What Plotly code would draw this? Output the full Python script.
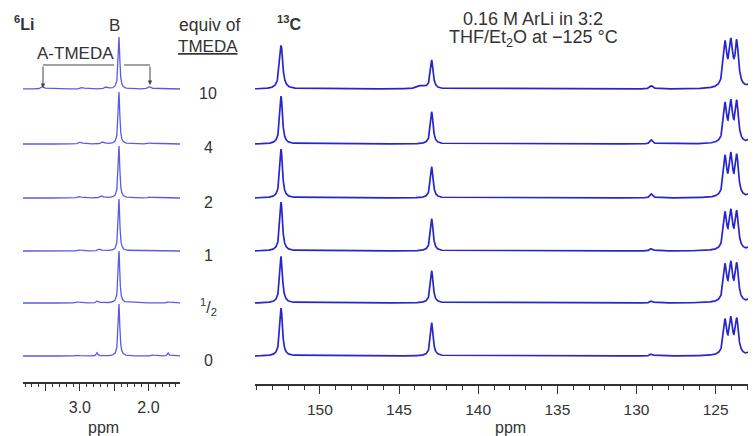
import numpy as np
import plotly.graph_objects as go

# ---------------- data ----------------
equiv_labels = ["10", "4", "2", "1", "<sup>1</sup>/<sub>2</sub>", "0"]

# 6Li spectra: peaks (ppm, intensity 0-100, FWHM ppm) per spectrum, top to bottom
li_peaks = [
    [(2.43, 100, 0.028), (3.54, 5, 0.05), (2.96, 3, 0.05), (2.61, 4, 0.05), (1.98, 5, 0.05)],
    [(2.43, 100, 0.028), (2.99, 4, 0.05), (2.66, 4, 0.05), (1.98, 2, 0.06)],
    [(2.43, 100, 0.028), (3.00, 3, 0.05), (2.68, 4, 0.05), (1.98, 1.5, 0.06)],
    [(2.43, 100, 0.028), (3.00, 2, 0.05), (2.71, 4, 0.05)],
    [(2.43, 100, 0.028), (3.03, 2, 0.05), (2.74, 4, 0.04), (1.71, 2, 0.04)],
    [(2.43, 100, 0.028), (3.03, 2, 0.04), (2.75, 6, 0.025), (1.93, 2, 0.04), (1.71, 6, 0.025)],
]

# 13C spectra: peaks (ppm, intensity 0-100, FWHM ppm) per spectrum, top to bottom
c_peaks = [
    [(152.45, 84, 0.24), (142.93, 55, 0.2), (143.6, 6, 0.6), (129.05, 6, 0.25),
     (124.40, 82, 0.26), (124.03, 80, 0.26), (123.66, 84, 0.26), (122.9, 5, 0.3)],
    [(152.45, 92, 0.2), (142.93, 62, 0.2), (129.05, 8, 0.2),
     (124.40, 72, 0.24), (124.03, 72, 0.24), (123.66, 76, 0.24), (122.9, 6, 0.25)],
    [(152.45, 94, 0.2), (142.93, 60, 0.2), (129.05, 8, 0.2),
     (124.40, 74, 0.24), (124.03, 74, 0.24), (123.66, 76, 0.24), (122.9, 5, 0.25)],
    [(152.45, 94, 0.2), (142.93, 62, 0.2), (129.05, 5, 0.2),
     (124.40, 68, 0.24), (124.03, 68, 0.24), (123.66, 70, 0.24), (122.9, 5, 0.25)],
    [(152.45, 90, 0.2), (142.93, 62, 0.2), (129.05, 4, 0.2),
     (124.40, 68, 0.24), (124.03, 68, 0.24), (123.66, 70, 0.24), (122.9, 5, 0.25)],
    [(152.45, 92, 0.2), (142.93, 64, 0.2), (129.05, 4, 0.2),
     (124.40, 64, 0.24), (124.03, 64, 0.24), (123.66, 66, 0.24), (122.9, 5, 0.25)],
]

li_ticks = [3.5, 3.0, 2.5, 2.0]
li_ticktext = ["", "3.0", "", "2.0"]
c_ticks = [150, 145, 140, 135, 130, 125]
c_ticktext = ["150", "145", "140", "135", "130", "125"]

# ---------------- layout helpers ----------------
WIN_W, WIN_H = 756, 436
OFF = 8                                  # browser body margin
W, H = WIN_W - OFF, WIN_H - OFF
baselines_px = [89, 144, 198, 251, 303, 356]   # window pixel rows of spectrum baselines
SCALE = 0.52                                    # px per intensity unit


def px(x):
    return (x - OFF) / W


def py(y):
    return 1 - (y - OFF) / H


def lorentz_sum(x, peaks):
    y = np.zeros_like(x)
    for c, h, w in peaks:
        g = w / 2
        y += h / (1 + ((x - c) / g) ** 2)
    return y


LI_RANGE = [3.83, 1.54]
C_RANGE = [154.1, 122.45]
li_x = np.linspace(LI_RANGE[1], LI_RANGE[0], 1600)
c_x = np.linspace(C_RANGE[1], C_RANGE[0], 4000)

LI_COLOR = "#5a5ae8"
C_COLOR = "#2626cc"

fig = go.Figure()
for i, pk in enumerate(li_peaks):
    yv = (WIN_H - baselines_px[i]) + SCALE * lorentz_sum(li_x, pk)
    fig.add_trace(go.Scatter(x=li_x, y=yv, mode="lines", xaxis="x", yaxis="y",
                             line=dict(color=LI_COLOR, width=1.3), hoverinfo="skip",
                             showlegend=False))
for i, pk in enumerate(c_peaks):
    yv = (WIN_H - baselines_px[i]) + SCALE * lorentz_sum(c_x, pk)
    fig.add_trace(go.Scatter(x=c_x, y=yv, mode="lines", xaxis="x2", yaxis="y",
                             line=dict(color=C_COLOR, width=1.7), hoverinfo="skip",
                             showlegend=False))

FONT = "Arial, Liberation Sans, sans-serif"
TXT = "#333333"

axis_common = dict(showgrid=False, zeroline=False, showline=True, linecolor=TXT,
                   linewidth=1.5, ticks="outside", tickcolor=TXT, tickwidth=1,
                   anchor="free", fixedrange=True)

fig.update_layout(
    width=W, height=H, margin=dict(l=0, r=0, t=0, b=0),
    paper_bgcolor="white", plot_bgcolor="white",
    xaxis=dict(domain=[px(23), px(180)], range=LI_RANGE, position=py(383),
               tickmode="array", tickvals=li_ticks, ticktext=li_ticktext, ticklen=7,
               ticklabelstandoff=3, tickfont=dict(family=FONT, size=16, color=TXT),
               minor=dict(dtick=0.1, tick0=0, ticklen=3, ticks="outside",
                          tickcolor=TXT, showgrid=False),
               **axis_common),
    xaxis2=dict(domain=[px(255), 1.0], range=C_RANGE, position=py(385),
                tickmode="array", tickvals=c_ticks, ticktext=c_ticktext, ticklen=8,
                ticklabelstandoff=3, tickfont=dict(family=FONT, size=15.5, color=TXT),
                minor=dict(dtick=1, tick0=0, ticklen=4, ticks="outside",
                           tickcolor=TXT, showgrid=False),
                **axis_common),
    yaxis=dict(domain=[0, 1], range=[0, H], visible=False, fixedrange=True),
)

ann = []


def text(x, y, s, size=14, anchor="center"):
    ann.append(dict(x=px(x), y=py(y), xref="paper", yref="paper", text=s,
                    showarrow=False, xanchor=anchor, yanchor="middle",
                    font=dict(family=FONT, size=size, color=TXT)))


text(12, 23, "<b><sup>6</sup>Li</b>", size=16, anchor="left")
text(114, 26, "B", size=17)
text(209, 25, "equiv of", size=17.5)
text(208, 47, "<u>TMEDA</u>", size=17)
text(75, 54, "A-TMEDA", size=17)
text(275, 23, "<b><sup>13</sup>C</b>", size=16, anchor="left")
text(533, 19, "0.16 M ArLi in 3:2", size=18)
text(533, 39, "THF/Et<sub>2</sub>O at \u2212125 \u00b0C", size=18)
text(103, 427, "ppm", size=16)
text(510, 427, "ppm", size=16)

for i, lab in enumerate(equiv_labels):
    text(208, baselines_px[i] + 4, lab, size=16)

# bracket arrows
for xa, ytip in [(43, 88), (150, 85)]:
    ann.append(dict(x=px(xa), y=py(ytip), xref="paper", yref="paper", ax=0,
                    ay=-(ytip - 65), axref="pixel", ayref="pixel", text="",
                    showarrow=True, arrowhead=2, arrowsize=0.9, arrowwidth=1,
                    arrowcolor="#444"))
fig.update_layout(annotations=ann)

shapes = [
    dict(type="line", xref="paper", yref="paper", x0=px(43), x1=px(114),
         y0=py(65), y1=py(65), line=dict(color="#444", width=1)),
    dict(type="line", xref="paper", yref="paper", x0=px(124), x1=px(150),
         y0=py(65), y1=py(65), line=dict(color="#444", width=1)),
]
fig.update_layout(shapes=shapes)

fig.write_html("out.html")
